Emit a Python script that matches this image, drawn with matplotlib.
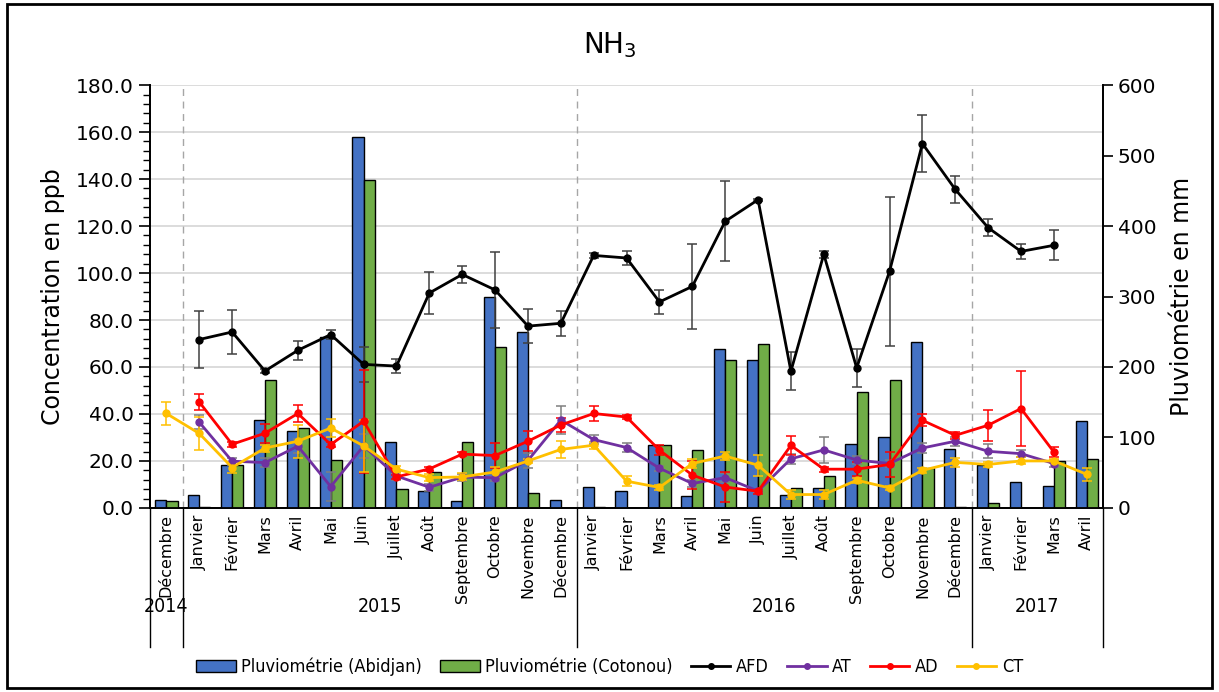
import numpy as np
import matplotlib.pyplot as plt
from matplotlib.patches import Rectangle, Patch
from matplotlib.lines import Line2D
from matplotlib.font_manager import FontProperties

nan = np.nan

mois = ['Décembre',
        'Janvier', 'Février', 'Mars', 'Avril', 'Mai', 'Juin', 'Juillet', 'Août',
        'Septembre', 'Octobre', 'Novembre', 'Décembre',
        'Janvier', 'Février', 'Mars', 'Avril', 'Mai', 'Juin', 'Juillet', 'Août',
        'Septembre', 'Octobre', 'Novembre', 'Décembre',
        'Janvier', 'Février', 'Mars', 'Avril']
annees = ['2014', '2015', '2016', '2017']
nb_mois = [1, 12, 12, 4]

# pluviometrie mensuelle (mm)
pluie_abidjan = [11, 18, 61, 125, 109, 243, 526, 93, 24, 10, 299, 249, 11,
                 30, 24, 90, 17, 226, 210, 19, 28, 91, 101, 236, 84,
                 61, 37, 31, 124]
pluie_cotonou = [10, 1, 61, 181, 113, 68, 465, 27, 51, 93, 229, 21, 0,
                 2, 0, 89, 82, 210, 232, 28, 45, 164, 182, 56, 1,
                 7, 0, 67, 70]

# concentrations NH3 (ppb) et ecarts
afd = [nan, 71.7, 74.9, 58.3, 67.1, 73.8, 61.1, 60.4, 91.5, 99.4, 92.8, 77.4, 78.6,
       107.5, 106.4, 87.7, 94.3, 122.0, 131.2, 58.2, 108.0, 59.6, 100.7, 155.1, 135.6,
       119.3, 109.2, 111.8, nan]
afd_err = [nan, 12, 9.5, 1, 4, 2, 7.3, 3, 9, 3.5, 16.3, 7.3, 5.2,
           1, 2.8, 5, 18, 17, 0.5, 8, 1.5, 8, 31.6, 12.3, 5.7,
           3.7, 3.3, 6.4, nan]
at = [nan, 36.5, 19.9, 19.3, 26.3, 9.1, 26.4, 13.6, 8.8, 13.1, 12.9, 20.2, 37.4,
      29.1, 25.7, 16.9, 10.4, 12.9, 7.2, 20.9, 24.7, 20.4, 18.9, 25.5, 28.4,
      24.1, 23.1, 18.9, nan]
at_err = [nan, 3, 1.5, 2, 3, 6, 5, 1.5, 1.5, 1.5, 1.5, 3, 6,
          2, 2, 1, 1.5, 2, 1, 2, 5.5, 1.5, 1.5, 2, 2,
          3, 1.5, 1.5, nan]
ad = [nan, 45.1, 27.1, 31.8, 40.2, 27.0, 36.9, 13.2, 16.6, 22.9, 22.3, 28.4, 35.3,
      40.2, 38.7, 24.6, 14.0, 8.9, 7.1, 26.6, 16.5, 16.5, 18.5, 37.3, 30.9,
      35.2, 42.3, 23.8, nan]
ad_err = [nan, 3.5, 1, 4, 3.5, 1, 22, 1, 1, 1, 5.4, 4.3, 3,
          3.3, 1, 2, 6, 6.5, 1, 4.2, 1, 3, 5.5, 2.6, 1.5,
          6.6, 16, 2, nan]
ct = [40.2, 31.7, 17.2, 25.5, 28.4, 34.0, 26.4, 16.5, 12.9, 13.2, 15.3, 20.0, 24.9,
      26.7, 11.4, 8.7, 18.9, 22.1, 18.2, 5.7, 5.7, 11.8, 8.5, 16.0, 19.4,
      18.5, 20.0, 20.0, 14.3]
ct_err = [5, 7, 2.5, 1.5, 7, 3.8, 11, 1.5, 1.5, 1.5, 2, 1, 3.8,
          1.5, 2, 1, 2, 1.5, 4.5, 2, 2, 1, 1, 1, 2,
          1, 1.5, 1, 2.7]

narrow_year = FontProperties(family='DejaVu Sans', stretch='condensed', size=14)
narrow_leg = FontProperties(family='DejaVu Sans', stretch='condensed', size=13)

x = np.arange(len(mois))
fig = plt.figure(figsize=(12.19, 6.92), dpi=100)
ax = fig.add_axes([0.123, 0.266, 0.782, 0.611])
ax2 = ax.twinx()
ax.set_zorder(ax2.get_zorder() + 1)
ax.patch.set_visible(False)

# barres pluviometrie (axe droit)
w = 0.34
ax2.bar(x - w / 2, pluie_abidjan, w, color='#4472C4', edgecolor='black', linewidth=1, zorder=3)
ax2.bar(x + w / 2, pluie_cotonou, w, color='#70AD47', edgecolor='black', linewidth=1, zorder=3)
ax2.set_ylim(0, 600)
ax2.set_yticks(range(0, 601, 100))
ax2.tick_params(axis='y', labelsize=14.5, direction='out', length=7, width=1.2)
ax2.set_ylabel('Pluviométrie en mm', fontsize=17, labelpad=10)

# grille horizontale derriere les barres
for v in range(20, 181, 20):
    ax2.axhline(v * 600 / 180, color='#d9d9d9', lw=1.3, zorder=0)
for b in [0.5, 12.5, 24.5]:
    ax2.axvline(b, color='#a6a6a6', lw=1, ls=(0, (5, 4)), zorder=1)

# concentrations (axe gauche)
series = [(afd, afd_err, 'black', '#404040', 'AFD'),
          (at, at_err, '#7030A0', '#7f7f7f', 'AT'),
          (ad, ad_err, '#FF0000', '#FF0000', 'AD'),
          (ct, ct_err, '#FFC000', '#FFC000', 'CT')]
for y, e, c, ec, lab in series:
    ax.errorbar(x, y, yerr=e, color=c, ecolor=ec, lw=2, marker='o', ms=5,
                elinewidth=1.1, capsize=3.5, capthick=1.1, zorder=4)

ax.set_xlim(-0.5, len(mois) - 0.5)
ax.set_ylim(0, 180)
ax.set_yticks(range(0, 181, 20))
ax.set_yticklabels([f'{v:.1f}' for v in range(0, 181, 20)])
ax.set_yticks(np.arange(0, 181, 4), minor=True)
ax.tick_params(axis='y', which='major', labelsize=14.5, direction='out', length=8, width=1.2)
ax.tick_params(axis='y', which='minor', direction='out', length=5, width=1)
ax.set_ylabel('Concentration en ppb', fontsize=17, labelpad=8)
ax.set_xticks([])
ax2.set_xticks([])
for a in (ax, ax2):
    a.spines['top'].set_visible(False)
    for s in ('left', 'right', 'bottom'):
        a.spines[s].set_linewidth(1.3)

# etiquettes mois / annees
tr = ax.get_xaxis_transform()
for i, m in enumerate(mois):
    ax.text(i, -0.015, m, rotation=90, ha='center', va='top', fontsize=11.5, transform=tr)
bornes = np.concatenate([[0], np.cumsum(nb_mois)]) - 0.5
for b in bornes:
    ax.add_line(Line2D([b, b], [0, -0.33], transform=tr, color='black', lw=1, clip_on=False))
for k, an in enumerate(annees):
    ax.text((bornes[k] + bornes[k + 1]) / 2, -0.232, an, ha='center', va='center',
            fontproperties=narrow_year, transform=tr)

fig.text(0.5, 0.935, 'NH$_3$', ha='center', va='center', fontsize=20)

handles = [Patch(facecolor='#4472C4', edgecolor='black'),
           Patch(facecolor='#70AD47', edgecolor='black')]
handles += [Line2D([], [], color=c, lw=2, marker='o', ms=4) for _, _, c, _, _ in series]
labels = ['Pluviométrie (Abidjan)', 'Pluviométrie (Cotonou)'] + [s[4] for s in series]
fig.legend(handles, labels, loc='center', bbox_to_anchor=(0.5, 0.036), ncol=6,
           frameon=False, prop=narrow_leg, handlelength=2.2,
           columnspacing=1.0, handletextpad=0.3)

fig.add_artist(Rectangle((0.006, 0.006), 0.988, 0.988, transform=fig.transFigure,
                         fill=False, edgecolor='black', lw=2))

fig.savefig('out.png', dpi=100)
